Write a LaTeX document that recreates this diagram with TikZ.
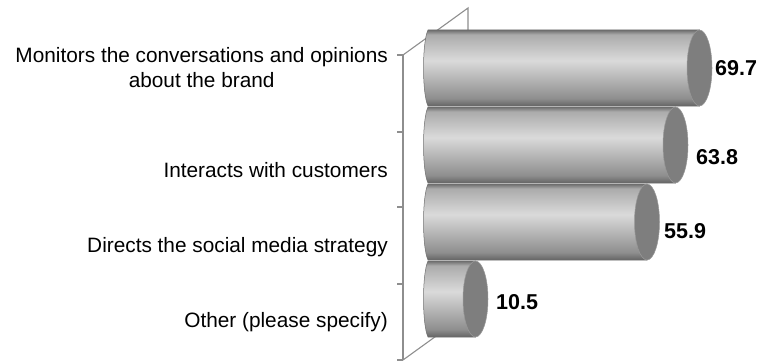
\documentclass[tikz,border=0pt]{standalone}
\usepackage{fontspec}
\setmainfont{Liberation Sans}
\usepackage{xcolor}
\usepackage{tikz}

\definecolor{axisgray}{HTML}{8E8E8E}
\definecolor{bardraw}{HTML}{6E6E6E}
\definecolor{capgray}{HTML}{7E7E7E}
\definecolor{bardark}{HTML}{646464}
\definecolor{barlow}{HTML}{8E8E8E}
\definecolor{barhi}{HTML}{DADADA}
\definecolor{bartop}{HTML}{ABABAB}

\pgfdeclareverticalshading{barshade}{100bp}{color(0bp)=(bardark); color(25bp)=(bardark);
  color(30bp)=(barlow); color(55bp)=(barhi); color(72bp)=(bartop); color(75bp)=(bardraw);
  color(100bp)=(bardraw)}

\tikzset{
  catlabel/.style={anchor=base east, inner sep=0pt, align=center,
    font=\fontsize{20.8}{25}\selectfont},
  vallabel/.style={anchor=west, inner sep=0pt, font=\fontsize{21.5}{25}\selectfont\bfseries},
  axisline/.style={draw=axisgray, line width=1.1pt},
}

% bar body and end cap: #1 = top edge, #2 = centre of the cap
\newcommand{\cylbar}[2]{%
  \shade[shading=barshade, draw=bardraw, line width=0.5pt] (#2,#1) -- (428,#1)
    .. controls (422,{#1+12}) and (422,{#1+64}) .. (428,{#1+76}) -- (#2,{#1+76}) -- cycle;
  \fill[capgray, draw=gray!80, line width=0.5pt] (#2,{#1+38}) ellipse [x radius=12.5, y radius=38];
}

\begin{document}
\begin{tikzpicture}[x=1pt, y=-1pt]
    \useasboundingbox (0,0) rectangle (760,361);

    % Axis and back wall
    \coordinate (axtop) at (403,55);
    \coordinate (axbot) at (403,360);
    \coordinate (walltop) at (468,8);
    \coordinate (wallfoot) at (468,30);
    \coordinate (floorend) at (468,313);
    \draw[axisline] (axtop) -- (axbot);
    \draw[axisline] (axtop) -- (walltop) -- (wallfoot);
    \draw[axisline] (axbot) -- (floorend);
    \draw[axisline] (397,55) -- (axtop);
    \draw[axisline] (397,132) -- (403,132);
    \draw[axisline] (397,207) -- (403,207);
    \draw[axisline] (397,284) -- (403,284);
    \draw[axisline] (397,360) -- (axbot);

    % Bars (drawn from the bottom up)
    \cylbar{261}{475.5}
    \cylbar{184}{647}
    \cylbar{107}{675.5}
    \cylbar{30}{699.5}

    % Categories
    \node[catlabel] (lblmonitor) at (388,88) {Monitors the conversations and opinions\\about the brand};
    \node[catlabel] (lblinteract) at (388,177) {Interacts with customers};
    \node[catlabel] (lbldirect) at (388,252) {Directs the social media strategy};
    \node[catlabel] (lblother) at (388,327) {Other (please specify)};

    % Values
    \node[vallabel] (valmonitor) at (715,68) {69.7};
    \node[vallabel] (valinteract) at (696,157) {63.8};
    \node[vallabel] (valdirect) at (664,231) {55.9};
    \node[vallabel] (valother) at (496,302) {10.5};
\end{tikzpicture}
\end{document}
